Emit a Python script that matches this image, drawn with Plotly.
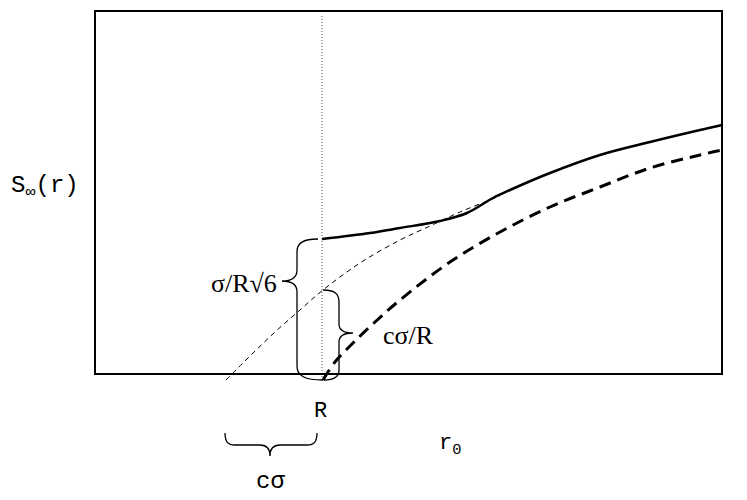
import plotly.graph_objects as go

# Curves (x: distance r from left frame, y: S value above bottom frame)
r_solid = [227, 275, 305, 345, 372, 398, 415, 455, 505, 555, 605, 627]
s_solid = [135, 141, 146, 153, 161, 176, 184, 201, 219, 232, 244, 249]

r_thin = [131, 155, 180, 205, 228, 265, 305, 335, 365, 395, 405]
s_thin = [-6, 18, 42, 64, 84, 111, 134, 148, 162, 174, 178]

r_dash = [228, 240, 258, 280, 305, 355, 405, 455, 505, 555, 605, 627]
s_dash = [-6, 12, 31, 52, 74, 112, 142, 167, 187, 206, 219, 224]

R_pos = 227
dotted_y = [-6, 358]
frame_x = [0, 627]
frame_y = [0, 363]

fig = go.Figure()
fig.add_trace(go.Scatter(x=r_thin, y=s_thin, mode="lines", line=dict(color="black", width=1, dash="5px,4px", shape="spline"), hoverinfo="skip"))
fig.add_trace(go.Scatter(x=r_dash, y=s_dash, mode="lines", line=dict(color="black", width=3, dash="12px,7px", shape="spline"), hoverinfo="skip"))
fig.add_trace(go.Scatter(x=r_solid, y=s_solid, mode="lines", line=dict(color="black", width=2.5, shape="spline"), hoverinfo="skip"))
fig.add_trace(go.Scatter(x=[R_pos, R_pos], y=dotted_y, mode="lines", line=dict(color="#555", width=1, dash="1px,2px"), hoverinfo="skip"))

shapes = [
    dict(type="rect", xref="x", yref="y", x0=frame_x[0], x1=frame_x[1], y0=frame_y[0], y1=frame_y[1], line=dict(color="black", width=2)),
    dict(type="path", xref="x", yref="y", line=dict(color="black", width=1.3),
         path="M 223,135 C 208,135 202,131 202,122 L 202,104 C 202,97 198,93 187,93 C 198,93 202,89 202,82 L 202,8 C 202,-2 210,-6 228,-6"),
    dict(type="path", xref="x", yref="y", line=dict(color="black", width=1.3),
         path="M 228,84 C 240,84 244,80 244,72 L 244,50 C 244,44 248,41 258,41 C 248,41 244,38 244,32 L 244,4 C 244,-3 238,-6 229,-6"),
    dict(type="path", xref="x", yref="y", line=dict(color="black", width=1.3),
         path="M 130,-59 C 130,-68 133,-71 140,-71 L 165,-71 C 171,-71 175,-74 175,-82 C 175,-74 179,-71 185,-71 L 212,-71 C 219,-71 222,-68 222,-59"),
]

mono = "Liberation Mono, Courier New, monospace"
serif = "Liberation Serif, Times New Roman, serif"
annots = [
    dict(x=-50, y=187, text="S<sub>∞</sub>(r)", font=dict(family=mono, size=24)),
    dict(x=149, y=91, text="σ/R√6", font=dict(family=serif, size=26)),
    dict(x=313, y=39, text="cσ/R", font=dict(family=serif, size=26)),
    dict(x=225, y=-37, text="R", font=dict(family=mono, size=22)),
    dict(x=355, y=-71, text="r<sub>0</sub>", font=dict(family=mono, size=22)),
    dict(x=175, y=-107, text="cσ", font=dict(family=mono, size=24)),
]
for a in annots:
    a.update(xref="x", yref="y", showarrow=False, xanchor="center", yanchor="middle")
    a["font"]["color"] = "black"

fig.update_layout(
    width=739, height=492, margin=dict(l=0, r=0, t=0, b=0),
    paper_bgcolor="white", plot_bgcolor="white", showlegend=False,
    xaxis=dict(range=[-87, 652], visible=False, fixedrange=True),
    yaxis=dict(range=[-126, 366], visible=False, fixedrange=True),
    shapes=shapes, annotations=annots,
)
fig.write_html("out.html")
